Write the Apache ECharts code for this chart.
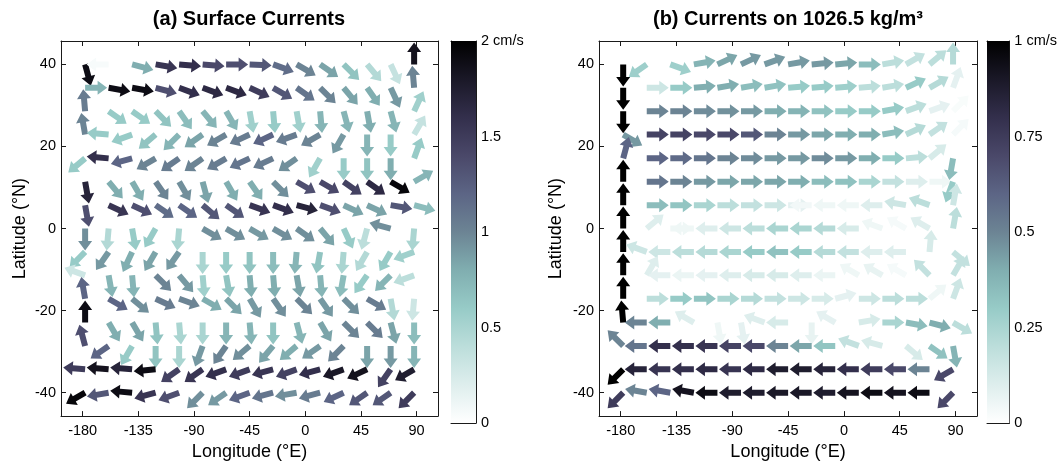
<!DOCTYPE html>
<html><head><meta charset="utf-8">
<script src="https://cdn.jsdelivr.net/npm/echarts@6/dist/echarts.min.js"></script>
<style>html,body{margin:0;padding:0;background:#fff}#c{width:1060px;height:466px}</style>
</head><body><div id="c"></div>
<script>
// ---------- data ----------
const lonCols = [-178,-159,-140,-121,-102,-83,-64,-45,-26,-7,12,31,50,69,88];
const latRows = [40,34.3,28.6,22.9,17.1,11.4,5.7,0,-5.7,-11.4,-17.1,-22.9,-28.6,-34.3,-40];
const xTicks = [-180,-135,-90,-45,0,45,90];
const yTicks = [-40,-20,0,20,40];
const cbarTicksA = [0,0.5,1,1.5,2];
const cbarTicksB = [0,0.25,0.5,0.75,1];
const cmapColors = ['#ffffff','#deeeed','#bcdedb','#97cbc7','#80aeb0','#6c8494','#5c6585','#4a4869','#332f4c','#1a1827','#000000'];

// direction (deg, 0 = east, 90 = north) and speed (cm/s), rows = latRows, cols = lonCols
const angA = [
[-75,180,-15,-10,-5,-5,0,-3,-20,-30,-35,-45,-50,-65,90],
[0,-10,-10,-15,-20,-20,-20,-25,-30,-35,-45,-50,-55,-65,95],
[95,-35,-35,-45,-55,-50,-60,-80,-85,-80,-85,-75,-80,-75,65],
[100,175,200,220,225,215,210,205,205,200,210,240,270,270,60],
[220,175,195,210,215,215,210,205,205,215,240,270,270,270,70],
[-80,-50,-60,-55,-60,-75,-60,-55,-45,-30,-30,-35,-35,-30,30],
[-80,-25,-25,-35,-35,-40,-35,-20,-20,-15,-20,-25,-25,-10,-15],
[-90,-95,-80,240,-95,-30,-30,-30,-30,-35,-50,-65,-105,165,-95],
[225,235,245,240,235,-90,-90,-90,-90,-95,-100,-95,240,240,200],
[160,-80,-85,-45,-50,-85,-80,-85,-85,-80,-85,-100,235,225,200],
[100,-30,-40,-25,-20,-30,-45,-60,-55,-45,-55,-45,-30,-80,-95],
[90,-60,-60,-85,-85,-90,-90,-85,-90,-75,-60,-45,-45,-75,-90],
[105,215,240,-90,-90,250,235,220,230,220,215,225,-90,-90,-90],
[175,175,175,185,215,215,200,200,195,200,195,200,205,235,210],
[210,190,175,195,200,225,215,200,195,190,195,205,215,215,225]
];
const spdA = [
[1.9,0.05,0.8,1.55,1.6,1.4,1.35,1.3,1.15,1.0,0.85,0.65,0.45,0.35,1.85],
[0.75,1.9,1.9,1.35,1.6,1.65,1.65,1.5,1.3,1.1,1.0,0.85,0.8,0.9,1.0],
[1.05,0.6,0.6,0.65,0.7,0.75,0.75,0.55,0.6,0.55,0.75,0.75,0.8,0.75,0.55],
[1.0,0.6,0.6,0.65,0.75,0.85,1.0,1.05,1.2,1.05,1.0,0.9,0.75,0.6,0.35],
[0.6,1.6,1.2,1.0,1.05,1.0,1.05,1.1,1.05,0.95,0.55,0.6,0.65,0.8,0.6],
[1.7,0.8,0.8,1.0,0.95,0.85,0.8,0.8,0.95,1.35,1.4,1.45,1.65,1.95,0.75],
[1.35,1.55,1.35,1.15,1.2,1.3,1.3,1.55,1.6,1.7,1.35,0.85,0.85,1.3,0.7],
[0.95,0.45,0.6,0.6,0.5,0.95,0.95,0.9,0.95,0.95,0.85,0.6,0.4,0.95,0.5],
[0.6,0.9,0.8,0.85,0.9,0.5,0.6,0.65,0.7,0.75,0.65,0.5,0.45,0.6,0.55],
[0.3,0.75,0.75,1.0,0.9,0.55,0.65,0.8,0.8,0.85,0.75,0.7,0.6,0.75,0.4],
[1.2,1.2,0.95,1.05,1.0,0.8,0.85,0.9,0.95,1.0,0.9,0.95,1.05,0.45,0.3],
[1.9,0.8,0.85,0.65,0.5,0.5,0.75,0.75,0.65,0.75,0.85,1.0,1.05,0.85,0.7],
[1.35,1.2,0.6,0.65,0.5,0.9,1.0,0.95,0.85,0.8,0.9,1.0,0.85,0.9,0.75],
[1.5,1.85,1.7,1.9,1.45,1.55,1.6,1.5,1.55,1.45,1.6,1.8,1.85,1.45,1.75],
[1.95,1.3,1.9,1.55,1.35,0.95,0.9,1.2,1.1,0.95,1.05,1.2,1.3,1.3,1.5]
];
const angB = [
[-90,215,-20,10,25,25,20,10,5,5,0,10,30,40,90],
[-90,0,0,5,10,10,10,5,5,5,5,10,25,30,70],
[-90,0,0,0,0,0,0,0,0,0,0,10,20,20,45],
[-30,0,0,0,0,0,0,0,0,0,0,10,25,35,45],
[75,0,0,0,0,0,0,0,0,0,0,0,5,40,260],
[90,0,0,0,0,0,0,0,0,0,0,0,0,0,250],
[90,0,0,0,0,0,0,0,180,180,180,180,170,160,80],
[90,40,0,180,180,180,180,180,180,180,180,160,150,150,80],
[90,160,180,180,180,180,180,180,180,180,180,180,180,85,-40],
[90,60,180,180,180,180,180,180,180,180,150,150,150,135,60],
[90,0,0,0,0,0,0,0,0,15,0,0,0,40,70],
[95,180,180,150,-80,-80,160,180,-90,150,10,0,-10,-15,-30],
[135,180,180,180,180,180,180,180,180,180,160,165,-40,-35,-80],
[225,180,180,180,180,180,180,180,180,180,180,180,180,180,210],
[225,170,170,170,180,180,180,180,180,180,180,180,180,180,225]
];
const spdB = [
[1.0,0.28,0.28,0.38,0.42,0.45,0.45,0.45,0.45,0.42,0.35,0.2,0.18,0.2,0.22],
[1.0,0.15,0.3,0.4,0.4,0.35,0.33,0.3,0.3,0.28,0.2,0.2,0.3,0.22,0.08],
[1.0,0.5,0.5,0.48,0.47,0.45,0.4,0.38,0.33,0.3,0.3,0.3,0.2,0.08,0.02],
[0.45,0.72,0.72,0.7,0.7,0.65,0.5,0.45,0.42,0.4,0.4,0.35,0.22,0.18,0.03],
[0.6,0.6,0.58,0.55,0.5,0.48,0.45,0.45,0.48,0.45,0.4,0.3,0.2,0.12,0.35],
[1.0,0.55,0.5,0.45,0.42,0.42,0.42,0.4,0.35,0.33,0.25,0.18,0.1,0.05,0.3],
[1.0,0.35,0.32,0.25,0.2,0.18,0.15,0.08,0.04,0.05,0.05,0.1,0.15,0.2,0.15],
[1.0,0.1,0.05,0.05,0.1,0.15,0.2,0.25,0.25,0.22,0.12,0.05,0.03,0.1,0.2],
[1.0,0.15,0.15,0.2,0.22,0.25,0.3,0.33,0.3,0.22,0.18,0.1,0.1,0.12,0.18],
[1.0,0.1,0.08,0.06,0.08,0.1,0.12,0.12,0.1,0.06,0.05,0.07,0.03,0.18,0.18],
[1.0,0.2,0.3,0.32,0.25,0.22,0.18,0.15,0.12,0.08,0.15,0.2,0.2,0.05,0.15],
[1.0,0.5,0.4,0.1,0.05,0.08,0.1,0.12,0.07,0.08,0.12,0.25,0.35,0.4,0.2],
[0.5,0.55,0.8,0.8,0.78,0.72,0.7,0.5,0.42,0.32,0.18,0.12,0.12,0.33,0.38],
[1.0,0.85,0.78,0.8,0.82,0.78,0.82,0.88,0.88,0.85,0.8,0.75,0.7,0.5,0.7],
[0.75,0.5,0.6,0.92,0.95,0.88,0.88,0.9,0.9,0.88,0.92,0.95,0.92,0.95,0.7]
];

// ---------- build ----------
function buildData(ang, spd) {
  const out = [];
  latRows.forEach((lat, r) => lonCols.forEach((lon, c) => out.push([lon, lat, ang[r][c], spd[r][c]])));
  return out;
}
const FONT = "'Liberation Sans', Arial, Helvetica, sans-serif";
const AX = '#1a1a1a';
const XMIN = -197.5, XMAX = 107.3, YMIN = -45.7, YMAX = 45.7;

function arrowItem(params, api) {
  const p = api.coord([api.value(0), api.value(1)]);
  const a = api.value(2) * Math.PI / 180;
  const ca = Math.cos(a), sa = Math.sin(a);
  const L = 22, h = 9.5, w = 6, H = 14;
  const local = [[0,-w/2],[L-h,-w/2],[L-h,-H/2],[L,0],[L-h,H/2],[L-h,w/2],[0,w/2]];
  const pts = local.map(([u, v]) => [p[0] + u*ca + v*sa, p[1] - u*sa + v*ca]);
  return { type: 'polygon', shape: { points: pts }, style: { fill: api.visual('color') } };
}
function cbarItem(params, api) {
  const p0 = api.coord([0, api.value(0)]);
  const p1 = api.coord([1, api.value(1)]);
  const stops = cmapColors.map((c, i) => ({ offset: i / (cmapColors.length - 1), color: c }));
  return { type: 'rect', shape: { x: p0[0], y: p1[1], width: p1[0]-p0[0], height: p0[1]-p1[1] },
           style: { fill: new echarts.graphic.LinearGradient(0, 1, 0, 0, stops) } };
}

const lineStyle = { show: true, lineStyle: { color: AX, width: 1 } };
const labelStyle = { color: '#000', fontSize: 14.5, fontFamily: FONT };
function panelX(grid, pos, withLabel) {
  return { type: 'value', gridIndex: grid, position: pos, min: XMIN, max: XMAX,
    axisLine: { ...lineStyle, onZero: false }, splitLine: { show: false },
    axisTick: { show: true, inside: true, length: 5, customValues: xTicks, lineStyle: { color: AX } },
    axisLabel: withLabel ? { ...labelStyle, margin: 7, customValues: xTicks } : { show: false },
    name: withLabel ? 'Longitude (°E)' : '', nameLocation: 'middle', nameGap: 23,
    nameTextStyle: { fontSize: 18, fontFamily: FONT, color: '#000' } };
}
function panelY(grid, pos, withLabel, gap) {
  return { type: 'value', gridIndex: grid, position: pos, min: YMIN, max: YMAX,
    axisLine: { ...lineStyle, onZero: false }, splitLine: { show: false },
    axisTick: { show: true, inside: true, length: 5, customValues: yTicks, lineStyle: { color: AX } },
    axisLabel: withLabel ? { ...labelStyle, margin: 5, customValues: yTicks } : { show: false },
    name: withLabel ? 'Latitude (°N)' : '', nameLocation: 'middle', nameGap: gap || 32,
    nameTextStyle: { fontSize: 18, fontFamily: FONT, color: '#000' } };
}
function cbX(grid, pos) {
  return { type: 'value', gridIndex: grid, position: pos, min: 0, max: 1,
    axisLine: { ...lineStyle, onZero: false }, axisTick: { show: false }, axisLabel: { show: false }, splitLine: { show: false } };
}
function cbY(grid, pos, ticks, unit) {
  const right = pos === 'right';
  const vmax = ticks[ticks.length - 1];
  return { type: 'value', gridIndex: grid, position: pos, min: ticks[0], max: vmax,
    axisLine: { ...lineStyle, onZero: false }, splitLine: { show: false },
    axisTick: right ? { show: true, inside: true, length: 4, customValues: ticks, lineStyle: { color: AX } } : { show: false },
    axisLabel: right ? { ...labelStyle, margin: 5, customValues: ticks,
      formatter: v => (v === vmax ? v + ' ' + unit : String(v)) } : { show: false } };
}

const option = {
  animation: false,
  backgroundColor: '#fff',
  grid: [
    { left: 61, top: 41, width: 377, height: 382 },
    { left: 599, top: 41, width: 378, height: 382 },
    { left: 451, top: 41, width: 25, height: 382 },
    { left: 987, top: 41, width: 26, height: 382 }
  ],
  xAxis: [panelX(0,'bottom',true), panelX(0,'top',false), panelX(1,'bottom',true), panelX(1,'top',false),
          cbX(2,'bottom'), cbX(2,'top'), cbX(3,'bottom'), cbX(3,'top')],
  yAxis: [panelY(0,'left',true,32), panelY(0,'right',false), panelY(1,'left',true,34), panelY(1,'right',false),
          cbY(2,'left',cbarTicksA,'cm/s'), cbY(2,'right',cbarTicksA,'cm/s'),
          cbY(3,'left',cbarTicksB,'cm/s'), cbY(3,'right',cbarTicksB,'cm/s')],
  visualMap: [
    { type: 'continuous', show: false, seriesIndex: 0, dimension: 3, min: cbarTicksA[0], max: cbarTicksA[cbarTicksA.length-1], inRange: { color: cmapColors } },
    { type: 'continuous', show: false, seriesIndex: 1, dimension: 3, min: cbarTicksB[0], max: cbarTicksB[cbarTicksB.length-1], inRange: { color: cmapColors } }
  ],
  series: [
    { type: 'custom', xAxisIndex: 0, yAxisIndex: 0, renderItem: arrowItem, data: buildData(angA, spdA), silent: true },
    { type: 'custom', xAxisIndex: 2, yAxisIndex: 2, renderItem: arrowItem, data: buildData(angB, spdB), silent: true },
    { type: 'custom', xAxisIndex: 4, yAxisIndex: 4, renderItem: cbarItem, data: [[cbarTicksA[0], cbarTicksA[cbarTicksA.length-1]]], silent: true },
    { type: 'custom', xAxisIndex: 6, yAxisIndex: 6, renderItem: cbarItem, data: [[cbarTicksB[0], cbarTicksB[cbarTicksB.length-1]]], silent: true }
  ],
  graphic: [
    { type: 'text', x: 249, y: 19, style: { text: '(a) Surface Currents', font: 'bold 20px ' + FONT, fill: '#000', align: 'center', verticalAlign: 'middle', textAlign: 'center', textVerticalAlign: 'middle' } },
    { type: 'text', x: 788, y: 19, style: { text: '(b) Currents on 1026.5 kg/m³', font: 'bold 20px ' + FONT, fill: '#000', align: 'center', verticalAlign: 'middle', textAlign: 'center', textVerticalAlign: 'middle' } }
  ]
};
const chart = echarts.init(document.getElementById('c'), null, { renderer: 'canvas' });
chart.setOption(option);
</script></body></html>
